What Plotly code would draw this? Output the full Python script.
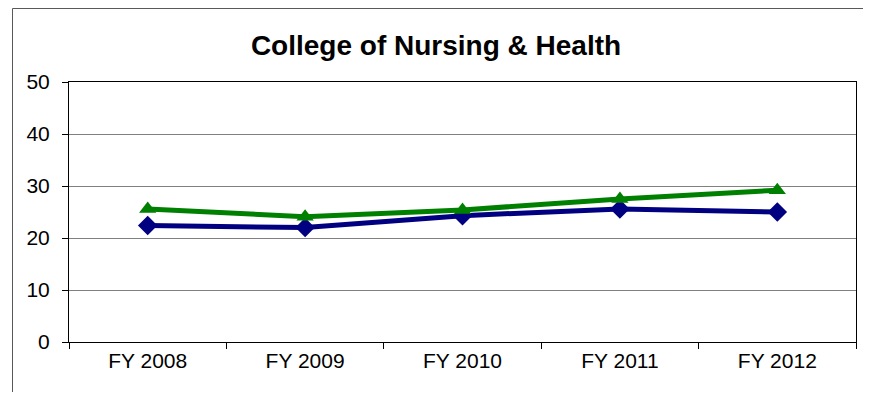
import plotly.graph_objects as go

categories = ["FY 2008", "FY 2009", "FY 2010", "FY 2011", "FY 2012"]
series_blue = [22.4, 22.0, 24.3, 25.6, 25.0]
series_green = [25.6, 24.1, 25.4, 27.5, 29.2]
y_ticks = [0, 10, 20, 30, 40, 50]

W, H = 856, 384
L, R, T, B = 61, 8, 74, 50
PW, PH = W - L - R, H - T - B

fig = go.Figure()
fig.add_trace(go.Scatter(
    x=categories, y=series_blue, mode="lines+markers",
    line=dict(color="#000080", width=5),
    marker=dict(symbol="diamond", size=15, color="#000080"),
    showlegend=False,
))
fig.add_trace(go.Scatter(
    x=categories, y=series_green, mode="lines+markers",
    line=dict(color="#008000", width=5),
    marker=dict(symbol="triangle-up", size=15, color="#008000"),
    showlegend=False,
))

bx0 = (4.5 - L) / PW
bx1 = (855 - L) / PW
by1 = 1 + (T - 0.5) / PH

fig.update_layout(
    width=W, height=H,
    margin=dict(l=L, r=R, t=T, b=B),
    paper_bgcolor="white", plot_bgcolor="white",
    font=dict(family="Liberation Sans, Arial, sans-serif", size=21, color="black"),
    title=dict(text="<b>College of Nursing &amp; Health</b>",
               x=(428 - L) / PW, xanchor="center", xref="paper",
               y=1 - 37 / H, yanchor="middle",
               font=dict(size=28, color="black")),
    xaxis=dict(
        type="category", range=[-0.5, 4.5],
        tickson="boundaries", ticks="outside", ticklen=6, tickcolor="black",
        showline=True, linecolor="black", linewidth=1, mirror=True,
        showgrid=False, zeroline=False,
    ),
    yaxis=dict(
        range=[0, 50], tickvals=y_ticks, ticks="outside", ticklen=6,
        tickcolor="black",
        showline=True, linecolor="black", linewidth=1, mirror=True,
        showgrid=True, gridcolor="#808080", gridwidth=1, zeroline=False,
        ticklabelstandoff=8,
    ),
    shapes=[
        dict(type="line", xref="paper", yref="paper",
             x0=bx0, x1=bx1, y0=by1, y1=by1,
             line=dict(color="#595959", width=1), layer="below"),
        dict(type="line", xref="paper", yref="paper",
             x0=bx0, x1=bx0, y0=-0.5, y1=by1,
             line=dict(color="#595959", width=1), layer="below"),
    ],
)

fig.write_html("out.html")
